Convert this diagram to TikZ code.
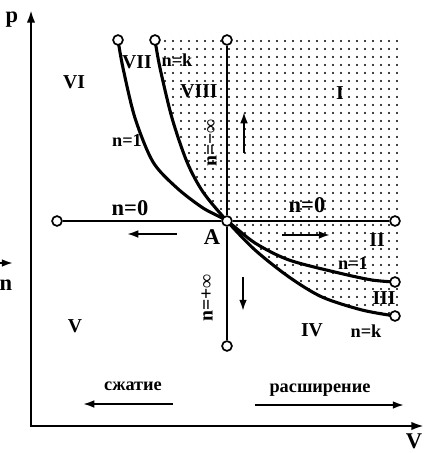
\documentclass[tikz,border=0pt]{standalone}
\usepackage{fontspec}
\setmainfont{Liberation Serif}
\usetikzlibrary{arrows.meta}
\tikzset{
  axis/.style={line width=1.6pt, {Latex[length=9pt,width=6pt]}-{Latex[length=9pt,width=6pt]}},
  curve/.style={line width=2.2pt},
  isoline/.style={line width=1.6pt},
  endpt/.style={circle, draw, line width=1.2pt, fill=white, inner sep=0pt, minimum size=7pt},
  dirarrow/.style={line width=1.4pt, -{Latex[length=8pt,width=5.5pt]}},
  region/.style={font=\fontsize{14}{14}\selectfont\bfseries, inner sep=0pt},
  nlabel/.style={font=\fontsize{13}{13}\selectfont\bfseries, inner sep=0pt},
  biglabel/.style={font=\fontsize{16}{16}\selectfont\bfseries, inner sep=0pt},
}
\begin{document}
\begin{tikzpicture}[x=0.025cm, y=-0.025cm]
  \useasboundingbox (0,0) rectangle (424,453);
  % dotted region above the n=k curve
  \begin{scope}
    \clip plot[smooth] coordinates {(155,40) (160,68) (172,118) (187,162) (203,192) (227,221) (255,250) (289,277) (322,297) (362,310) (395,316)} -- (398,316) -- (398,37) -- cycle;
    \foreach \i in {0,...,31}
      \foreach \j in {0,...,35}
        \fill (157+8*\i, 41+8*\j) circle (0.85pt);
  \end{scope}
  % axes
  \coordinate (O) at (31,426);
  \coordinate (pTop) at (31,10);
  \coordinate (vEnd) at (424,426);
  \draw[axis] (pTop) -- (O) -- (vEnd);
  \node[biglabel] (pLab) at (12,20) {p};
  \node[biglabel] (vLab) at (414,441) {V};
  % polytropes n=1 and n=k
  \draw[curve] plot[smooth] coordinates {(118,40) (123,68) (135,118) (153,162) (177,188) (203,208) (227,221) (255,243) (289,260) (339,273) (372,280) (395,282)};
  \draw[curve] plot[smooth] coordinates {(155,40) (160,68) (172,118) (187,162) (203,192) (227,221) (255,250) (289,277) (322,297) (362,310) (395,316)};
  % end points
  \node[endpt] (oneTop) at (118,40) {};
  \node[endpt] (kTop) at (155,40) {};
  \node[endpt] (oneEnd) at (395,282) {};
  \node[endpt] (kEnd) at (395,316) {};
  \node[endpt] (hL) at (57,221) {};
  \node[endpt] (hR) at (395,221) {};
  \node[endpt] (vT) at (227,40) {};
  \node[endpt] (vB) at (227,346) {};
  \node[endpt] (A) at (227,221) {};
  % isobar and isochore
  \draw[isoline] (hL) -- (A) -- (hR);
  \draw[isoline] (vT) -- (A) -- (vB);
  % direction arrows
  \coordinate (lS) at (177,234); \coordinate (lE) at (127,234);
  \coordinate (rS) at (282,235); \coordinate (rE) at (330,235);
  \coordinate (uS) at (244,153); \coordinate (uE) at (244,112);
  \coordinate (dS) at (243,277); \coordinate (dE) at (243,311);
  \draw[dirarrow] (lS) -- (lE);
  \draw[dirarrow] (rS) -- (rE);
  \draw[dirarrow] (uS) -- (uE);
  \draw[dirarrow] (dS) -- (dE);
  % labels
  \node[biglabel] (aLab) at (212,237) {A};
  \node[region] (r1) at (340,93) {I};
  \node[region] (r2) at (377,240) {II};
  \node[region] (r3) at (384,298) {III};
  \node[region] (r4) at (312,330) {IV};
  \node[region] (r5) at (75,326) {V};
  \node[region] (r6) at (74,82) {VI};
  \node[region] (r7) at (137,62) {VII};
  \node[region] (r8) at (199,91) {VIII};
  \node[nlabel] (kUp) at (177,60) {n=k};
  \node[nlabel] (oneUp) at (127,140) {n=1};
  \node[nlabel] (oneLow) at (353,263) {n=1};
  \node[nlabel] (kLow) at (366,331) {n=k};
  \node[biglabel] (zeroL) at (130,208) {n=0};
  \node[biglabel] (zeroR) at (307,205) {n=0};
  \node[region, rotate=90] (minf) at (212,143) {n=−∞};
  \node[region, rotate=90] (pinf) at (207,298) {n=+∞};
  % left edge marker
  \coordinate (nS) at (0,263); \coordinate (nE) at (13,263);
  \draw[dirarrow] (nS) -- (nE);
  \node[biglabel] (nLab) at (6,285) {n};
  % compression / expansion
  \node[nlabel] (comp) at (133,386) {сжатие};
  \coordinate (cS) at (173,404); \coordinate (cE) at (83,404);
  \draw[dirarrow] (cS) -- (cE);
  \node[nlabel] (expa) at (320,390) {расширение};
  \coordinate (eS) at (255,405); \coordinate (eE) at (404,405);
  \draw[dirarrow] (eS) -- (eE);
\end{tikzpicture}
\end{document}
